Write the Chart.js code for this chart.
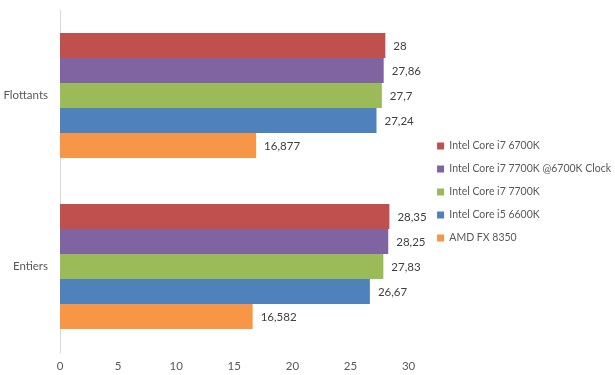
<!DOCTYPE html>
<html>
<head>
<meta charset="utf-8">
<script src="https://cdn.jsdelivr.net/npm/chart.js@4"></script>
<style>
  html, body { margin: 0; padding: 0; background: #fff; }
  #wrap { width: 615px; height: 375px; position: relative; }
</style>
</head>
<body>
<div id="wrap"><canvas id="chart"></canvas></div>
<script>
// categories (top to bottom)
const categories = ['Flottants', 'Entiers'];

// series, legend order
const seriesNames = [
  'Intel Core i7 6700K',
  'Intel Core i7 7700K @6700K Clock',
  'Intel Core i7 7700K',
  'Intel Core i5 6600K',
  'AMD FX 8350'
];
const seriesColors = ['#C0504D', '#8064A2', '#9BBB59', '#4F81BD', '#F79646'];

const i7_6700k      = [28, 28.35];
const i7_7700k_6700 = [27.86, 28.25];
const i7_7700k      = [27.7, 27.83];
const i5_6600k      = [27.24, 26.67];
const fx8350        = [16.877, 16.582];

const xTicks = [0, 5, 10, 15, 20, 25, 30];

const seriesValues = [i7_6700k, i7_7700k_6700, i7_7700k, i5_6600k, fx8350];

const FONT = 'Lato, "Open Sans", sans-serif';

// value labels at the end of each bar, french decimal comma
const valueLabels = {
  id: 'valueLabels',
  afterDatasetsDraw(chart) {
    const ctx = chart.ctx;
    ctx.save();
    ctx.font = '11.5px ' + FONT;
    ctx.fillStyle = '#404040';
    ctx.textAlign = 'left';
    ctx.textBaseline = 'middle';
    chart.data.datasets.forEach((ds, di) => {
      chart.getDatasetMeta(di).data.forEach((bar, i) => {
        const txt = String(ds.data[i]).replace('.', ',');
        ctx.fillText(txt, bar.x + 8, bar.y + 1);
      });
    });
    ctx.restore();
  }
};

// push the legend a bit further from the plot
const legendShift = {
  id: 'legendShift',
  afterLayout(chart) {
    const lg = chart.legend;
    if (!lg) return;
    lg.left += 16;
    lg.right += 16;
    if (lg.adjustHitBoxes) lg.adjustHitBoxes();
  }
};

function draw() {
  new Chart(document.getElementById('chart'), {
    type: 'bar',
    data: {
      labels: categories,
      datasets: seriesNames.map((name, i) => ({
        label: name,
        data: seriesValues[i],
        backgroundColor: seriesColors[i],
        borderWidth: 0,
        categoryPercentage: 0.73,
        barPercentage: 1
      }))
    },
    options: {
      indexAxis: 'y',
      responsive: true,
      maintainAspectRatio: false,
      animation: false,
      layout: { padding: { top: 10, right: 10, bottom: 1, left: 0 } },
      plugins: {
        tooltip: { enabled: false },
        legend: {
          position: 'right',
          align: 'center',
          maxWidth: 400,
          labels: {
            boxWidth: 7,
            boxHeight: 7,
            padding: 12.5,
            color: '#595959',
            font: { family: FONT, size: 10.5 }
          }
        }
      },
      scales: {
        x: {
          min: 0,
          max: 30,
          afterBuildTicks: s => { s.ticks = xTicks.map(v => ({ value: v })); },
          afterFit: s => { s.height = 22; s.paddingTop = 0; s.paddingBottom = 0; },
          grid: { display: false, drawTicks: false },
          border: { display: false },
          ticks: { color: '#595959', padding: 7, font: { family: FONT, size: 11.5 } }
        },
        y: {
          afterFit: s => { s.width = 60; s.paddingTop = 0; s.paddingBottom = 0; },
          grid: { display: false, drawTicks: false },
          border: { display: true, color: '#D9D9D9', width: 1 },
          ticks: { color: '#595959', padding: 12, font: { family: FONT, size: 11.5 } }
        }
      }
    },
    plugins: [valueLabels, legendShift]
  });
}

Promise.all([document.fonts.load('12px Lato'), document.fonts.load('11px Lato')])
  .then(draw, draw);
</script>
</body>
</html>
